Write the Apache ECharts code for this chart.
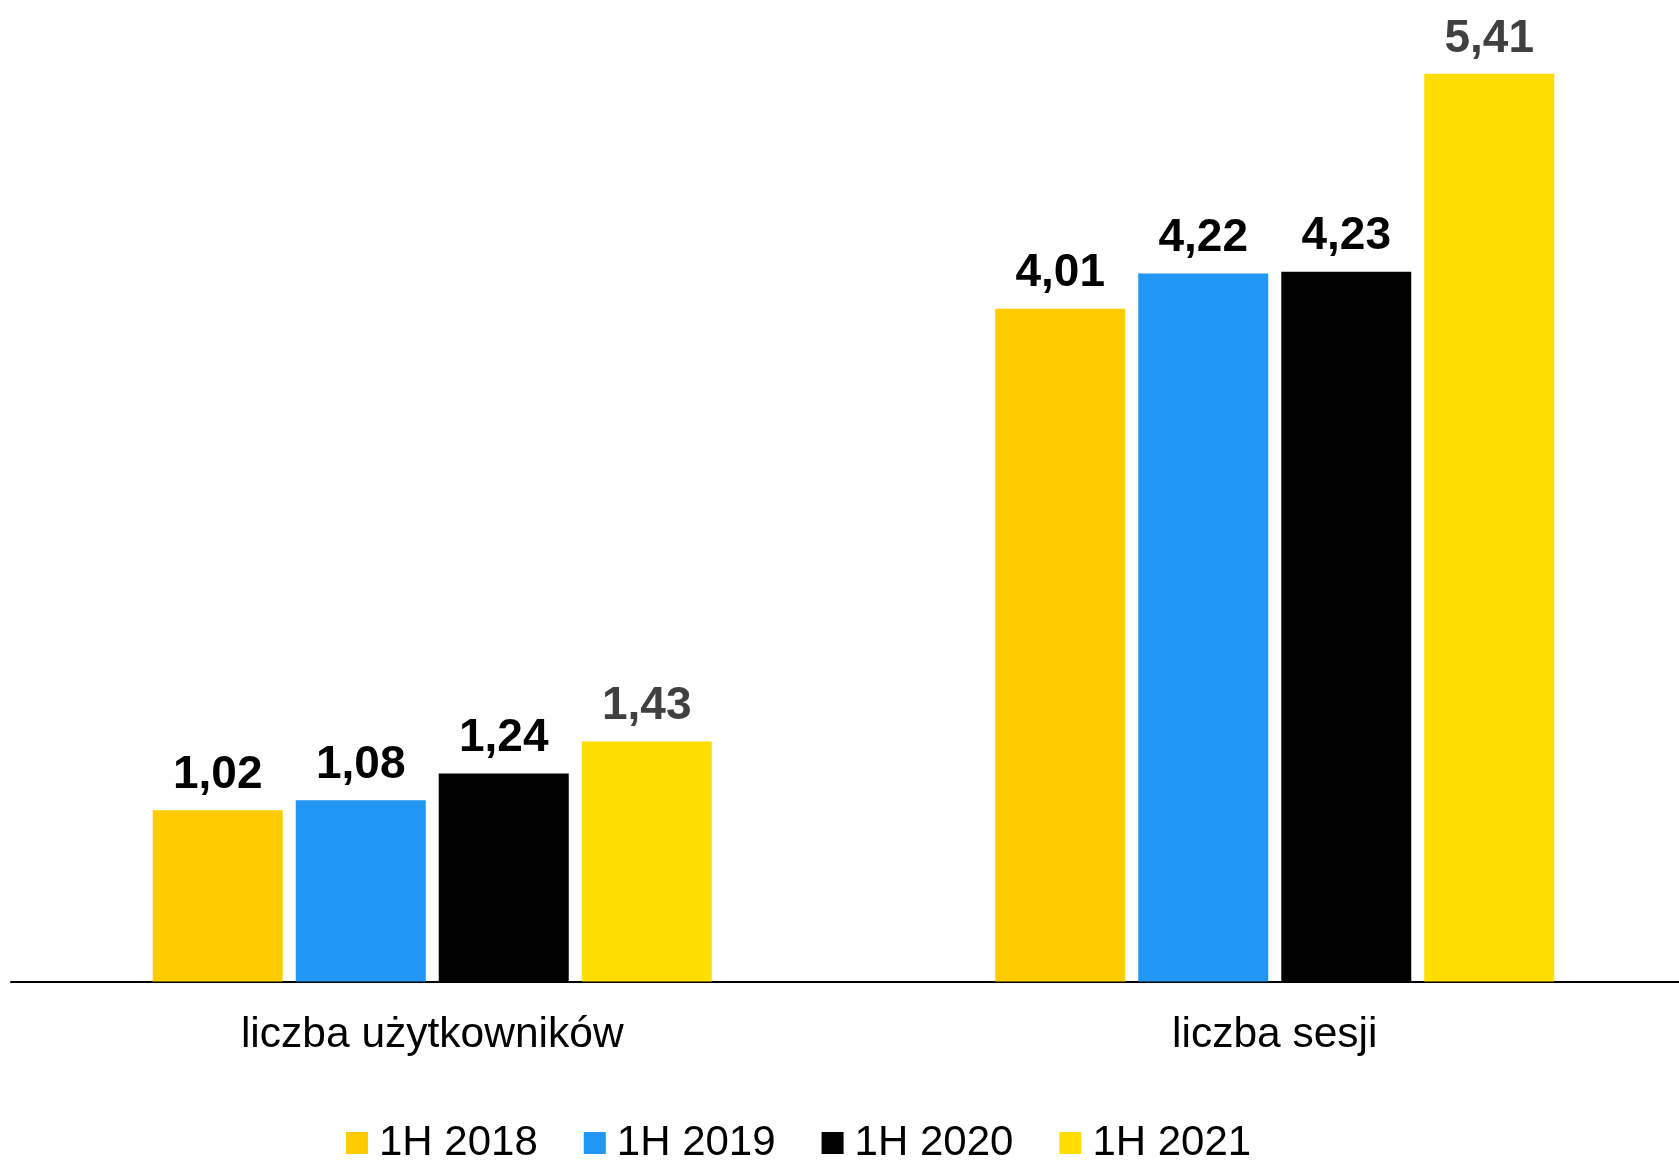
<!DOCTYPE html>
<html>
<head>
<meta charset="utf-8">
<style>
html,body{margin:0;padding:0;background:#fff;overflow:hidden;}
#chart{width:1700px;height:1160px;}
</style>
<script src="https://cdn.jsdelivr.net/npm/echarts@6/dist/echarts.min.js"></script>
</head>
<body>
<div id="chart"></div>
<script>
const categories = ['liczba użytkowników', 'liczba sesji'];
const seriesNames = ['1H 2018', '1H 2019', '1H 2020', '1H 2021'];
const values2018 = [1.02, 4.01];
const values2019 = [1.08, 4.22];
const values2020 = [1.24, 4.23];
const values2021 = [1.43, 5.41];
const seriesColors = ['#FFCC00', '#2196F3', '#000000', '#FFDD00'];
const labelColors = ['#000000', '#000000', '#000000', '#404040'];

const allValues = [values2018, values2019, values2020, values2021];
const FONT = '"Liberation Sans", Arial, sans-serif';

const chart = echarts.init(document.getElementById('chart'));
chart.setOption({
  animation: false,
  backgroundColor: '#ffffff',
  grid: { left: 11, right: 4, top: 0, bottom: 1160 - 981.5, containLabel: false },
  legend: {
    left: 341,
    top: 1117,
    icon: 'rect',
    itemWidth: 22,
    itemHeight: 22,
    itemGap: 46,
    data: seriesNames,
    textStyle: { fontFamily: FONT, fontSize: 42, color: '#000', padding: [0, 0, 0, 6] }
  },
  xAxis: {
    type: 'category',
    data: categories,
    axisLine: { show: true, lineStyle: { color: '#000', width: 2 } },
    axisTick: { show: false },
    axisLabel: { fontFamily: FONT, fontSize: 42.5, color: '#000', margin: 32 }
  },
  yAxis: {
    type: 'value',
    min: 0,
    max: 5.85,
    show: false,
    splitLine: { show: false }
  },
  series: seriesNames.map((name, i) => ({
    name: name,
    type: 'bar',
    data: allValues[i],
    barWidth: 130,
    barGap: '10%',
    itemStyle: { color: seriesColors[i] },
    label: {
      show: true,
      position: 'top',
      distance: 12,
      fontFamily: FONT,
      fontWeight: 'bold',
      fontSize: 46,
      color: labelColors[i],
      formatter: p => p.value.toFixed(2).replace('.', ',')
    }
  }))
});
</script>
</body>
</html>
